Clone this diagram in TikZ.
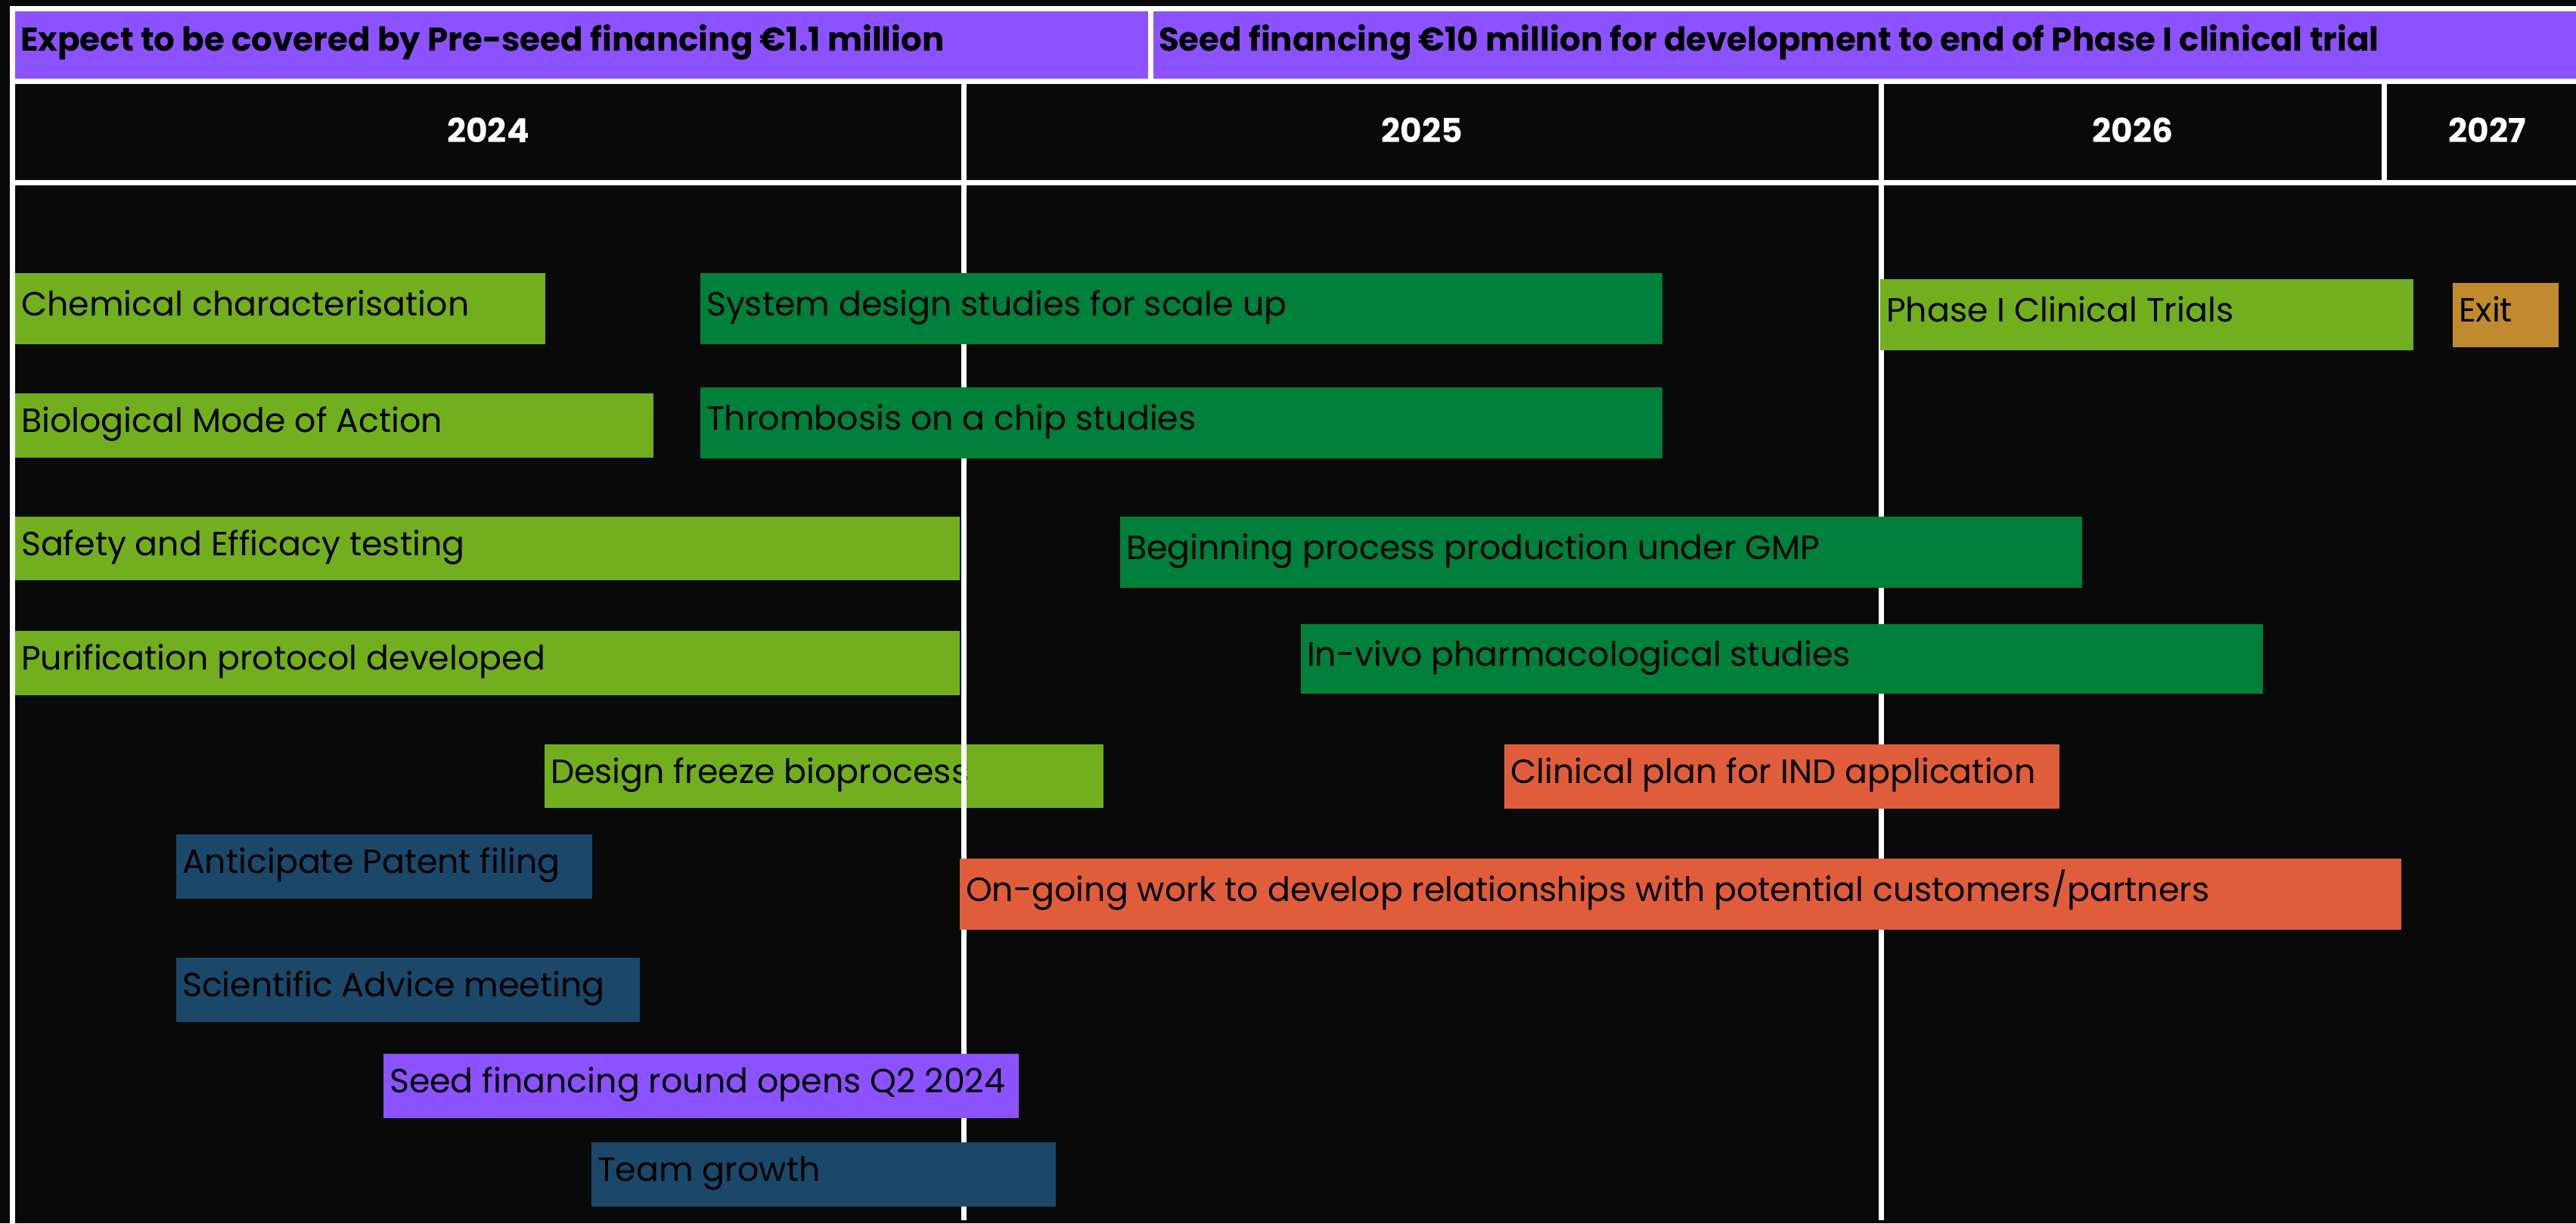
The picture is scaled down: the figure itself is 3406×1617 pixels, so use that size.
\documentclass[tikz,border=0pt]{standalone}
\usepackage{fontspec}
\setmainfont{Poppins}
\usetikzlibrary{fit, positioning}
\definecolor{bgblack}{HTML}{0A090A}
\definecolor{seedpurple}{HTML}{8C52FF}
\definecolor{limegreen}{HTML}{72AF1E}
\definecolor{forestgreen}{HTML}{00803A}
\definecolor{navyblue}{HTML}{1B4869}
\definecolor{coral}{HTML}{E05D3C}
\definecolor{ochre}{HTML}{C28A2E}

\begin{document}
\begin{tikzpicture}[
 x=0.01cm, y=-0.01cm,
 bar/.style={inner sep=0pt, draw=none},
 task/.style={inner sep=0pt, font=\fontsize{12.6}{15}\selectfont, text=black, anchor=base west},
 year/.style={inner sep=0pt, font=\fontsize{12.5}{15}\selectfont\bfseries, text=white, anchor=base},
 head/.style={inner sep=0pt, font=\fontsize{12.4}{15}\selectfont\bfseries, text=black, anchor=base west},
 rule/.style={white, line width=0.07cm}
]
\useasboundingbox[fill=bgblack] (0,0) rectangle (3406,1617);

% header band
\node[bar, fill=seedpurple, fit={(20,14) (1518,104)}] (preseed) {};
\node[bar, fill=seedpurple, fit={(1525,14) (3406,104)}] (seed) {};
\node[head] (preseedtxt) at ([xshift=0.07cm, yshift=-0.08cm]preseed.west) {Expect to be covered by Pre-seed financing €1.1 million};
\node[head] (seedtxt) at ([xshift=0.07cm, yshift=-0.08cm]seed.west) {Seed financing €10 million for development to end of Phase I clinical trial};

% years
\node[bar, fit={(20,111) (1271,237)}] (y2024) {};
\node[bar, fit={(1278,111) (2483,237)}] (y2025) {};
\node[bar, fit={(2491,111) (3149,237)}] (y2026) {};
\node[bar, fit={(3156,111) (3422,237)}] (y2027) {};
\node[year] (t2024) at ([yshift=-0.145cm]y2024.center) {2024};
\node[year] (t2025) at ([yshift=-0.145cm]y2025.center) {2025};
\node[year] (t2026) at ([yshift=-0.145cm]y2026.center) {2026};
\node[year] (t2027) at ([yshift=-0.145cm]y2027.center) {2027};

% bar under the grid
\node[bar, fill=limegreen, fit={(720,984) (1459,1068)}] (freeze) {};
\node[task] (freezetxt) at ([xshift=0.08cm, yshift=-0.09cm]freeze.west) {Design freeze bioprocess};

% grid
\draw[rule] (13,11) -- (3406,11);
\draw[rule] (13,107.5) -- (3406,107.5);
\draw[rule] (13,241) -- (3406,241);
\draw[rule] (16.5,8) -- (16.5,1617);
\draw[rule] (1521.5,11) -- (1521.5,107.5);
\draw[rule] (1274.5,107.5) -- (1274.5,1613);
\draw[rule] (2487,107.5) -- (2487,1613);
\draw[rule] (3152.5,107.5) -- (3152.5,241);

% tasks
\node[bar, fill=limegreen, fit={(20,361) (721,455)}] (chem) {};
\node[task] (chemtxt) at ([xshift=0.08cm, yshift=-0.09cm]chem.west) {Chemical characterisation};
\node[bar, fill=limegreen, fit={(20,520) (864,605)}] (bio) {};
\node[task] (biotxt) at ([xshift=0.08cm, yshift=-0.09cm]bio.west) {Biological Mode of Action};
\node[bar, fill=forestgreen, fit={(926,361) (2198,455)}] (sysdes) {};
\node[task] (sysdestxt) at ([xshift=0.08cm, yshift=-0.09cm]sysdes.west) {System design studies for scale up};
\node[bar, fill=forestgreen, fit={(926,512) (2198,606)}] (chip) {};
\node[task] (chiptxt) at ([xshift=0.08cm, yshift=-0.09cm]chip.west) {Thrombosis on a chip studies};
\node[bar, fill=limegreen, fit={(20,683) (1269,767)}] (safety) {};
\node[task] (safetytxt) at ([xshift=0.08cm, yshift=-0.09cm]safety.west) {Safety and Efficacy testing};
\node[bar, fill=limegreen, fit={(20,834) (1269,919)}] (purif) {};
\node[task] (puriftxt) at ([xshift=0.08cm, yshift=-0.09cm]purif.west) {Purification protocol developed};
\node[bar, fill=navyblue, fit={(233,1103) (783,1188)}] (patent) {};
\node[task] (patenttxt) at ([xshift=0.08cm, yshift=-0.09cm]patent.west) {Anticipate Patent filing};
\node[bar, fill=navyblue, fit={(233,1266) (846,1351)}] (advice) {};
\node[task] (advicetxt) at ([xshift=0.08cm, yshift=-0.09cm]advice.west) {Scientific Advice meeting};
\node[bar, fill=seedpurple, fit={(507,1393) (1347,1478)}] (seedround) {};
\node[task] (seedroundtxt) at ([xshift=0.08cm, yshift=-0.09cm]seedround.west) {Seed financing round opens Q2 2024};
\node[bar, fill=navyblue, fit={(782,1510) (1396,1595)}] (team) {};
\node[task] (teamtxt) at ([xshift=0.08cm, yshift=-0.09cm]team.west) {Team growth};
\node[bar, fill=forestgreen, fit={(1481,683) (2753,777)}] (gmp) {};
\node[task] (gmptxt) at ([xshift=0.08cm, yshift=-0.09cm]gmp.west) {Beginning process production under GMP};
\node[bar, fill=forestgreen, fit={(1720,825) (2992,917)}] (invivo) {};
\node[task] (invivotxt) at ([xshift=0.08cm, yshift=-0.09cm]invivo.west) {In-vivo pharmacological studies};
\node[bar, fill=coral, fit={(1989,984) (2723,1069)}] (indplan) {};
\node[task] (indplantxt) at ([xshift=0.08cm, yshift=-0.09cm]indplan.west) {Clinical plan for IND application};
\node[bar, fill=coral, fit={(1269,1135) (3175,1229)}] (partners) {};
\node[task] (partnerstxt) at ([xshift=0.08cm, yshift=-0.09cm]partners.west) {On-going work to develop relationships with potential customers/partners};
\node[bar, fill=limegreen, fit={(2486,369) (3191,463)}] (phase) {};
\node[task] (phasetxt) at ([xshift=0.08cm, yshift=-0.09cm]phase.west) {Phase I Clinical Trials};
\node[bar, fill=ochre, fit={(3243,374) (3383,459)}] (exit) {};
\node[task] (exittxt) at ([xshift=0.08cm, yshift=-0.09cm]exit.west) {Exit};
\end{tikzpicture}
\end{document}
